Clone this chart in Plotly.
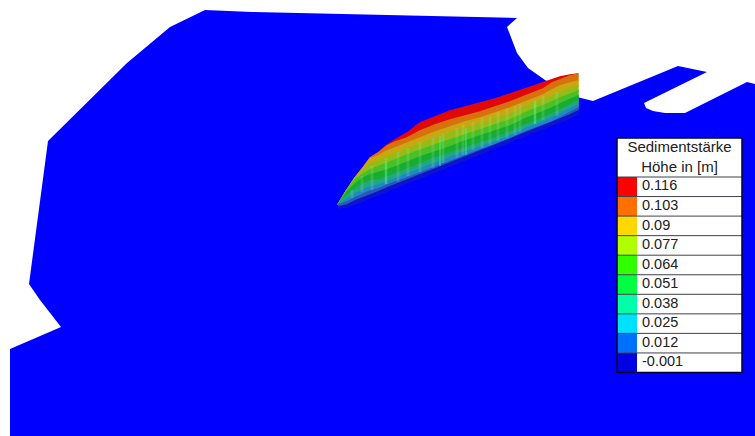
import plotly.graph_objects as go

# Ground outline (blue surface)
ground_x = [205,252,517,507,517,528,545,577,593,678,707,644,646,653,665,685,747,755,755,10,10,61,40,29,48,127,170]
ground_y = [10,12,18,27,53,68,80,97,101,66,72,103,108,111,113,113,82,84,436,436,349,327,300,284,141,63,27]

# Sediment body: stations along the wall and the lower edge of each colour band
st_x   = [338,347,355,363,370,378,387,395,407,420,435,450,465,480,495,510,525,543,552,560,570,578]
top    = [205,190,178,168,158,153,145,140,133,123,117,111,107,103,99,94,89,83,80,77,75,74]
red    = [205,190,178,168,158,153,146,142,138,131,125,120,116,112,107,102,96,89,83,80,76,74]
orange = [205,190,178,168,159,156,151,148,143,138,132,127,122,118,113,108,102,95,90,86,83,81]
yellow = [205,190,178,170,164,161,157,154,149,144,138,133,128,124,119,114,107,100,96,92,89,86]
ygreen = [205,190,180,174,170,167,163,160,155,150,145,140,135,130,125,120,113,106,102,98,94,91]
green1 = [205,192,184,178,175,173,170,167,162,157,152,147,141,136,131,126,119,112,108,104,100,96]
green2 = [205,195,189,184,181,180,177,174,169,164,158,153,148,143,138,132,125,118,114,110,105,101]
teal   = [205,199,194,190,187,185,182,179,174,169,163,158,152,147,142,136,129,122,118,114,109,105]
blue1  = [205,202,198,194,191,189,185,182,178,173,167,161,155,150,145,139,132,125,122,118,112,108]
steel  = [207,205,201,198,195,192,188,185,180,175,169,163,157,151,145,139,133,126,123,119,115,111]
shadow = [208,207,204,201,198,195,191,188,183,178,172,166,160,154,148,142,136,129,126,122,118,114]
band_edges = [top, red, orange, yellow, ygreen, green1, green2, teal, blue1, steel, shadow]
band_colors = ["#e00808","#d8700e","#c8a810","#94bc18","#48c028","#18ac30",
               "#20a880","#2088c8","#2a58b8","#0c14d0"]

# Pale vertical streaks on the wall: position, upper and lower end
streak_x   = [352,362,372,386,398,408,420,433,443,457,463,473,482,490,498,507,515,520,535,543,557]
streak_top = [190,176,166,158,152,148,142,138,134,128,124,122,118,116,112,108,106,104,100,96,92]
streak_bot = [198,192,190,184,182,176,172,168,163,158,155,150,148,145,141,138,135,132,124,120,116]
bright_x   = [386,440,466,535]
bright_top = [162,136,128,102]
bright_bot = [184,166,155,124]

# Legend
legend_title = ["Sedimentstärke", "Höhe in [m]"]
legend_labels = ["0.116","0.103","0.09","0.077","0.064","0.051","0.038","0.025","0.012","-0.001"]
legend_colors = ["#ff0000","#ff7000","#ffd800","#b0ff00","#30ff00","#00ff40",
                 "#00ffa8","#00e0ff","#0070ff","#0000e0"]

fig = go.Figure()
fig.add_trace(go.Scatter(x=ground_x, y=ground_y, mode="lines", fill="toself",
                         fillcolor="#0000ff", line=dict(width=0), hoverinfo="skip"))

for i, c in enumerate(band_colors):
    xs = st_x + st_x[::-1]
    ys = band_edges[i] + band_edges[i+1][::-1]
    fig.add_trace(go.Scatter(x=xs, y=ys, mode="lines", fill="toself", fillcolor=c,
                             line=dict(width=1.5, color=c), hoverinfo="skip"))

def segs(xv, a, b):
    sx, sy = [], []
    for x, p, q in zip(xv, a, b):
        sx += [x, x, None]
        sy += [p, q, None]
    return sx, sy

sx, sy = segs(streak_x, streak_top, streak_bot)
fig.add_trace(go.Scatter(x=sx, y=sy, mode="lines", hoverinfo="skip",
                         line=dict(width=3, color="rgba(170,240,170,0.18)")))
sx, sy = segs(bright_x, bright_top, bright_bot)
fig.add_trace(go.Scatter(x=sx, y=sy, mode="lines", hoverinfo="skip",
                         line=dict(width=2, color="rgba(80,255,140,0.35)")))

# Legend: box, swatches, rule lines and labels on the same pixel axes
L, R, T, H, ROW, SW = 617, 742, 138, 39, 19.55, 20
n = len(legend_labels)
B = T + H + n * ROW
fig.add_trace(go.Scatter(x=[L,R,R,L,L], y=[T,T,B,B,T], mode="lines", fill="toself",
                         fillcolor="#ffffff", line=dict(width=0), hoverinfo="skip"))
centers = [T + H + (i + 0.5) * ROW for i in range(n)]
for i in range(n):
    y0, y1 = T + H + i * ROW, T + H + (i + 1) * ROW
    fig.add_trace(go.Scatter(x=[L, L+SW, L+SW, L, L], y=[y0, y0, y1, y1, y0], mode="lines", fill="toself",
                             fillcolor=legend_colors[i], line=dict(width=0), hoverinfo="skip"))
rx, ry = [], []
for i in range(n):
    yy = T + H + i * ROW
    rx += [L, R, None]
    ry += [yy, yy, None]
fig.add_trace(go.Scatter(x=rx, y=ry, mode="lines", line=dict(width=1, color="#404050"), hoverinfo="skip"))
fig.add_trace(go.Scatter(x=[L, R, R, L, L], y=[T, T, B, B, T], mode="lines",
                         line=dict(width=1.5, color="#000030"), hoverinfo="skip"))
fig.add_trace(go.Scatter(x=[L+25]*n, y=centers, mode="text", text=legend_labels, textposition="middle right",
                         textfont=dict(family="Liberation Sans", size=14.5, color="#202020"), hoverinfo="skip"))
fig.add_trace(go.Scatter(x=[(L+R)/2]*2, y=[T+H*0.25+0.5, T+H*0.75+0.5], mode="text", text=legend_title,
                         textposition="middle center",
                         textfont=dict(family="Liberation Sans", size=15, color="#202020"), hoverinfo="skip"))

fig.update_layout(width=755, height=436, margin=dict(l=0, r=0, t=0, b=0), showlegend=False,
                  paper_bgcolor="#ffffff", plot_bgcolor="#ffffff",
                  xaxis=dict(range=[0,755], visible=False, fixedrange=True),
                  yaxis=dict(range=[436,0], visible=False, fixedrange=True))
fig.write_html("out.html", config={"displayModeBar": False},
               post_script="document.body.style.margin='0';")
